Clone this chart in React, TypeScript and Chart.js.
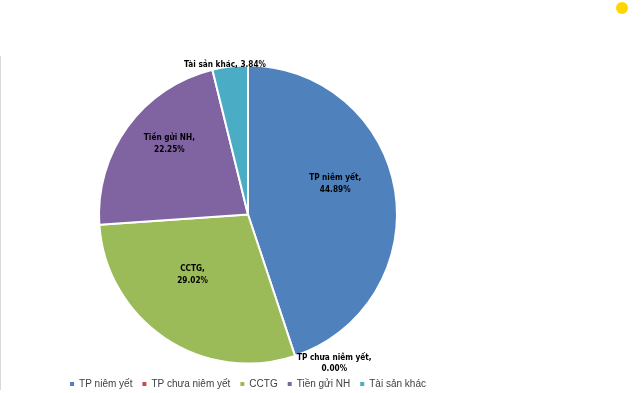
import React, { useEffect, useRef } from "react";
import { Chart, registerables } from "chart.js";

Chart.register(...registerables);

const categories = ["TP niêm yết", "TP chưa niêm yết", "CCTG", "Tiền gửi NH", "Tài sản khác"];
const values = [44.89, 0.0, 29.02, 22.25, 3.84];
const valueLabels = ["44.89%", "0.00%", "29.02%", "22.25%", "3.84%"];
const colors = ["#4F81BD", "#C0504D", "#9BBB59", "#8064A2", "#4BACC6"];
// label placement mode: "in" = inside slice (two lines), "outTop" = single line above, "outSide" = beside edge (two lines)
const labelModes = ["in", "outSide", "in", "in", "outTop"];

const labelPlugin = {
  id: "sliceLabels",
  afterDatasetsDraw(chart: any) {
    const ctx = chart.ctx;
    const meta = chart.getDatasetMeta(0);
    ctx.save();
    ctx.font = "bold 8.2px 'Liberation Sans Narrow', 'DejaVu Sans Condensed', Arial, sans-serif";
    ctx.fillStyle = "#000000";
    meta.data.forEach((arc: any, i: number) => {
      const { x, y, startAngle, endAngle, outerRadius } = arc.getProps(
        ["x", "y", "startAngle", "endAngle", "outerRadius"],
        true
      );
      const mid = (startAngle + endAngle) / 2;
      const cx = Math.cos(mid);
      const cy = Math.sin(mid);
      const mode = labelModes[i];
      const line1 = categories[i] + ",";
      const line2 = valueLabels[i];
      if (mode === "in") {
        const r = outerRadius * 0.62;
        const px = x + cx * r - 4;
        const py = y + cy * r - 16;
        ctx.textAlign = "center";
        ctx.textBaseline = "middle";
        ctx.fillText(line1, px, py - 6);
        ctx.fillText(line2, px, py + 6);
      } else if (mode === "outTop") {
        const r = outerRadius + 1;
        const px = x + cx * r;
        const py = y + cy * r;
        ctx.textAlign = "center";
        ctx.textBaseline = "middle";
        ctx.fillText(line1 + " " + line2, px - 5, py - 1);
      } else {
        const r = outerRadius;
        const px = x + cx * r;
        const py = y + cy * r;
        ctx.textAlign = "center";
        ctx.textBaseline = "middle";
        const w = ctx.measureText(line1).width;
        const ax = px + w / 2 + 2;
        ctx.fillText(line1, ax, py + 2);
        ctx.fillText(line2, ax, py + 13);
      }
    });
    ctx.restore();
  },
};

export default function App() {
  const ref = useRef<HTMLCanvasElement>(null);
  useEffect(() => {
    if (!ref.current) return;
    const chart = new Chart(ref.current, {
      type: "pie",
      data: {
        labels: categories,
        datasets: [
          {
            data: values,
            backgroundColor: colors,
            borderColor: "#ffffff",
            borderWidth: 2,
            radius: 149,
          },
        ],
      },
      options: {
        animation: false,
        responsive: false,
        maintainAspectRatio: false,
        layout: { padding: { top: 60, left: 0, right: 4, bottom: 0 } },
        plugins: {
          tooltip: { enabled: false },
          legend: {
            position: "bottom",
            labels: {
              boxWidth: 4,
              boxHeight: 4,
              padding: 10,
              color: "#404040",
              font: { size: 10, family: "'Liberation Sans', Arial, sans-serif" },
              generateLabels: (chart: any) =>
                Chart.overrides.pie.plugins.legend.labels
                  .generateLabels(chart)
                  .map((l: any) => ({ ...l, lineWidth: 0, strokeStyle: l.fillStyle })),
            },
          },
        },
      },
      plugins: [labelPlugin],
    });
    return () => chart.destroy();
  }, []);

  return (
    <div
      style={{
        position: "absolute",
        left: 0,
        top: 0,
        width: 644,
        height: 393,
        background: "#ffffff",
        overflow: "hidden",
      }}
    >
      <div
        style={{
          position: "absolute",
          left: 0,
          top: 56,
          width: 1,
          height: 334,
          background: "#d9d9d9",
        }}
      />
      <div
        style={{
          position: "absolute",
          left: 616,
          top: 2,
          width: 12,
          height: 12,
          borderRadius: "50%",
          background: "#FFD700",
        }}
      />
      <canvas
        ref={ref}
        width={500}
        height={399}
        style={{ position: "absolute", left: 0, top: 0, width: 500, height: 399 }}
      />
    </div>
  );
}
